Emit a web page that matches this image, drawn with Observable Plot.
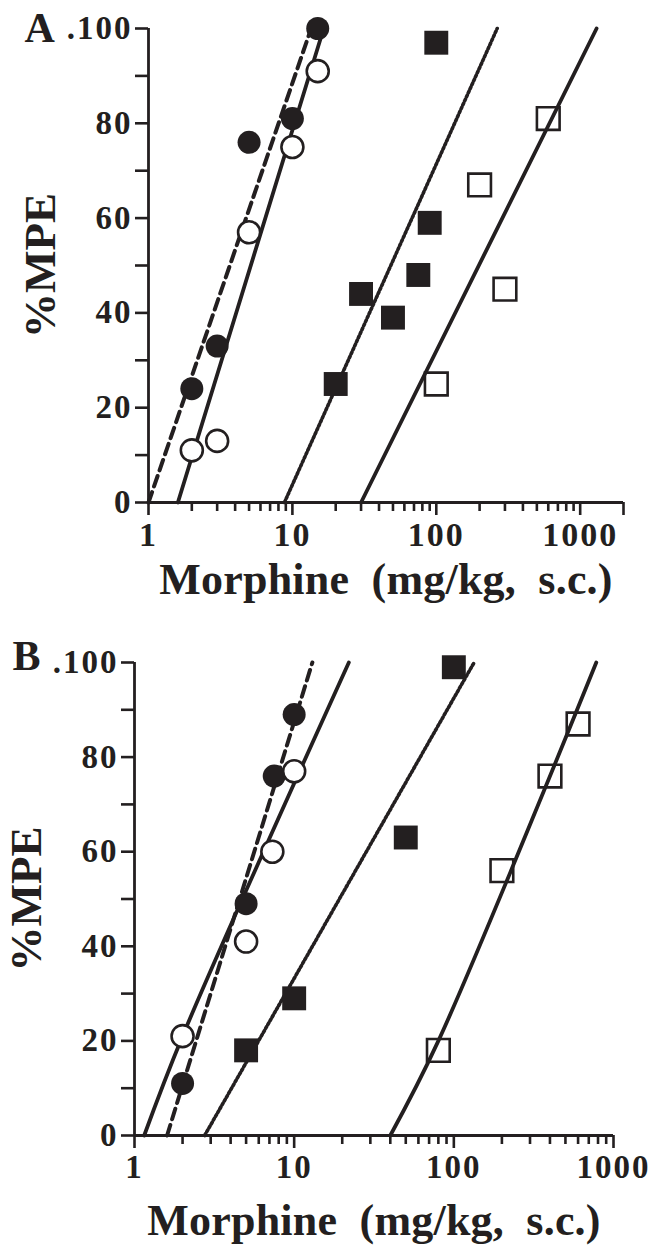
<!DOCTYPE html>
<html><head><meta charset="utf-8">
<script src="https://cdn.jsdelivr.net/npm/d3@7"></script>
<script src="https://cdn.jsdelivr.net/npm/@observablehq/plot@0.6"></script>
<style>
body{margin:0;background:#fff;}
svg{display:block;}
g[aria-label="y-axis tick label"] text{letter-spacing:2px;}
g[aria-label="x-axis tick label"] text{letter-spacing:2px;}
</style></head><body><div id="chart"></div>
<script>
const ink = "#231f20";
const serif = "'Liberation Serif','Times New Roman',serif";

// ---------- Panel A ----------
const doseA_filledCircle = [2, 3, 5, 10, 15];
const mpeA_filledCircle  = [24, 33, 76, 81, 100];
const doseA_openCircle   = [2, 3, 5, 10, 15];
const mpeA_openCircle    = [11, 13, 57, 75, 91];
const doseA_filledSquare = [20, 30, 50, 75, 90, 100];
const mpeA_filledSquare  = [25, 44, 39, 48, 59, 97];
const doseA_openSquare   = [100, 200, 300, 600];
const mpeA_openSquare    = [25, 67, 45, 81];
const doseA_dashed = [1, 13.5];    const mpeA_dashed = [0, 100];
const doseA_solidL = [1.6, 16.5];  const mpeA_solidL = [0, 100];
const doseA_dotted = [8.8, 265];   const mpeA_dotted = [0, 100];
const doseA_solidR = [30, 1300];   const mpeA_solidR = [0, 100];

// ---------- Panel B ----------
const doseB_filledCircle = [2, 5, 7.5, 10];
const mpeB_filledCircle  = [11, 49, 76, 89];
const doseB_openCircle   = [2, 5, 7.3, 10];
const mpeB_openCircle    = [21, 41, 60, 77];
const doseB_filledSquare = [5, 10, 50, 100];
const mpeB_filledSquare  = [18, 29, 63, 99];
const doseB_openSquare   = [80, 200, 400, 600];
const mpeB_openSquare    = [18, 56, 76, 87];
const doseB_dashed = [1.6, 13];          const mpeB_dashed = [0, 100];
const doseB_solidL = [1.15, 2, 22];      const mpeB_solidL = [0, 21, 100];
const doseB_dotted = [2.75, 134];        const mpeB_dotted = [0, 100];
const doseB_solidR = [40, 80, 780];      const mpeB_solidR = [0, 20, 100];

// ---------- Ticks & labels ----------
const yMajorTicks = [0, 20, 40, 60, 80, 100];
const yMinorTicks = [10, 30, 50, 70, 90];
const xMajorTicks = [1, 10, 100, 1000];
const xMinorTicks = [2,3,4,5,6,7,8,9,20,30,40,50,60,70,80,90,200,300,400,500,600,700,800,900];
const xEndTickA = [2000];
const xLabel = "Morphine  (mg/kg,  s.c.)";
const yLabel = "%MPE";

const zip = (xs, ys) => xs.map((x, i) => ({x, y: ys[i]}));

function panel(p) {
  const marks = [
    Plot.line(zip(p.dashed[0], p.dashed[1]), {x: "x", y: "y", stroke: ink, strokeWidth: 4, strokeDasharray: "11,6"}),
    Plot.line(zip(p.solidL[0], p.solidL[1]), {x: "x", y: "y", stroke: ink, strokeWidth: 3.8, curve: "catmull-rom"}),
    Plot.line(zip(p.dotted[0], p.dotted[1]), {x: "x", y: "y", stroke: ink, strokeWidth: 3.6, strokeDasharray: "2,2.4"}),
    Plot.line(zip(p.solidR[0], p.solidR[1]), {x: "x", y: "y", stroke: ink, strokeWidth: 3.8, curve: "catmull-rom"}),
    Plot.ruleX([1], {y1: 0, y2: 100, stroke: ink, strokeWidth: 2.8}),
    Plot.ruleY([0], {x1: 1, x2: p.xMax, stroke: ink, strokeWidth: 2.8}),
    Plot.axisY(yMajorTicks, {tickSize: 13, tickPadding: 3, strokeWidth: 2.6, stroke: ink, fill: ink, label: null,
      fontSize: 33, tickFormat: d => d === 100 ? ".100" : String(d)}),
    Plot.axisY(yMinorTicks, {tickSize: 13, strokeWidth: 2.6, stroke: ink, fill: "none", label: null}),
    Plot.axisX(xMajorTicks, {tickSize: 13, tickPadding: 6, strokeWidth: 2.6, stroke: ink, fill: ink, label: null,
      fontSize: p.xTickFont, tickFormat: d => String(d)}),
    Plot.axisX(xMinorTicks, {tickSize: 9, strokeWidth: 2.6, stroke: ink, fill: "none", label: null}),
    ...(p.endTicks ? [Plot.axisX(p.endTicks, {tickSize: 13, strokeWidth: 2.6, stroke: ink, fill: "none", label: null})] : []),
    Plot.dot(zip(p.fs[0], p.fs[1]), {x: "x", y: "y", symbol: "square", r: 13.5, fill: ink, stroke: "none"}),
    Plot.dot(zip(p.os[0], p.os[1]), {x: "x", y: "y", symbol: "square", r: 12.8, fill: "none", stroke: ink, strokeWidth: 2.6}),
    Plot.dot(zip(p.fc[0], p.fc[1]), {x: "x", y: "y", r: 11.5, fill: ink, stroke: "none"}),
    Plot.dot(zip(p.oc[0], p.oc[1]), {x: "x", y: "y", r: 11, fill: "white", stroke: ink, strokeWidth: 2.6}),
    Plot.text([xLabel], {frameAnchor: "bottom", textAnchor: "middle", lineAnchor: "bottom", dy: p.xLabelDy,
      fontSize: 44, fontWeight: "bold", fill: ink}),
    Plot.text([yLabel], {frameAnchor: "left", textAnchor: "middle", lineAnchor: "middle", dx: -108, rotate: -90,
      fontSize: 45, fontWeight: "bold", fill: ink}),
    Plot.text([p.name], {frameAnchor: "top-left", textAnchor: "start", lineAnchor: "middle", dx: p.nameDx, dy: p.nameDy,
      fontSize: 42, fontWeight: "bold", fill: ink})
  ];
  const svg = Plot.plot({
    width: 650,
    height: p.height,
    marginLeft: p.ml, marginRight: p.mr, marginTop: p.mt, marginBottom: p.mb,
    x: {type: "log", domain: [1, p.xMax]},
    y: {domain: [0, 100]},
    style: {fontFamily: serif, fontWeight: "bold", fontSize: "33px", color: ink, background: "white", overflow: "visible"},
    marks
  });
  d3.select(svg).selectAll("text")
    .filter(function() { return this.textContent === xLabel; })
    .style("letter-spacing", "0.2px").style("white-space", "pre");
  return svg;
}

const svgA = panel({
  name: "A", height: 612, ml: 148, mr: 27, mt: 28, mb: 110, xMax: 2000, endTicks: xEndTickA,
  xLabelDy: 91, nameDx: -124, nameDy: 0, xTickFont: 34,
  fc: [doseA_filledCircle, mpeA_filledCircle], oc: [doseA_openCircle, mpeA_openCircle],
  fs: [doseA_filledSquare, mpeA_filledSquare], os: [doseA_openSquare, mpeA_openSquare],
  dashed: [doseA_dashed, mpeA_dashed], solidL: [doseA_solidL, mpeA_solidL],
  dotted: [doseA_dotted, mpeA_dotted], solidR: [doseA_solidR, mpeA_solidR]
});
const svgB = panel({
  name: "B", height: 633, ml: 134, mr: 37, mt: 50, mb: 110, xMax: 1000, endTicks: null,
  xLabelDy: 99, nameDx: -122, nameDy: -6, xTickFont: 33,
  fc: [doseB_filledCircle, mpeB_filledCircle], oc: [doseB_openCircle, mpeB_openCircle],
  fs: [doseB_filledSquare, mpeB_filledSquare], os: [doseB_openSquare, mpeB_openSquare],
  dashed: [doseB_dashed, mpeB_dashed], solidL: [doseB_solidL, mpeB_solidL],
  dotted: [doseB_dotted, mpeB_dotted], solidR: [doseB_solidR, mpeB_solidR]
});
document.getElementById("chart").append(svgA, svgB);
</script>
</body></html>
